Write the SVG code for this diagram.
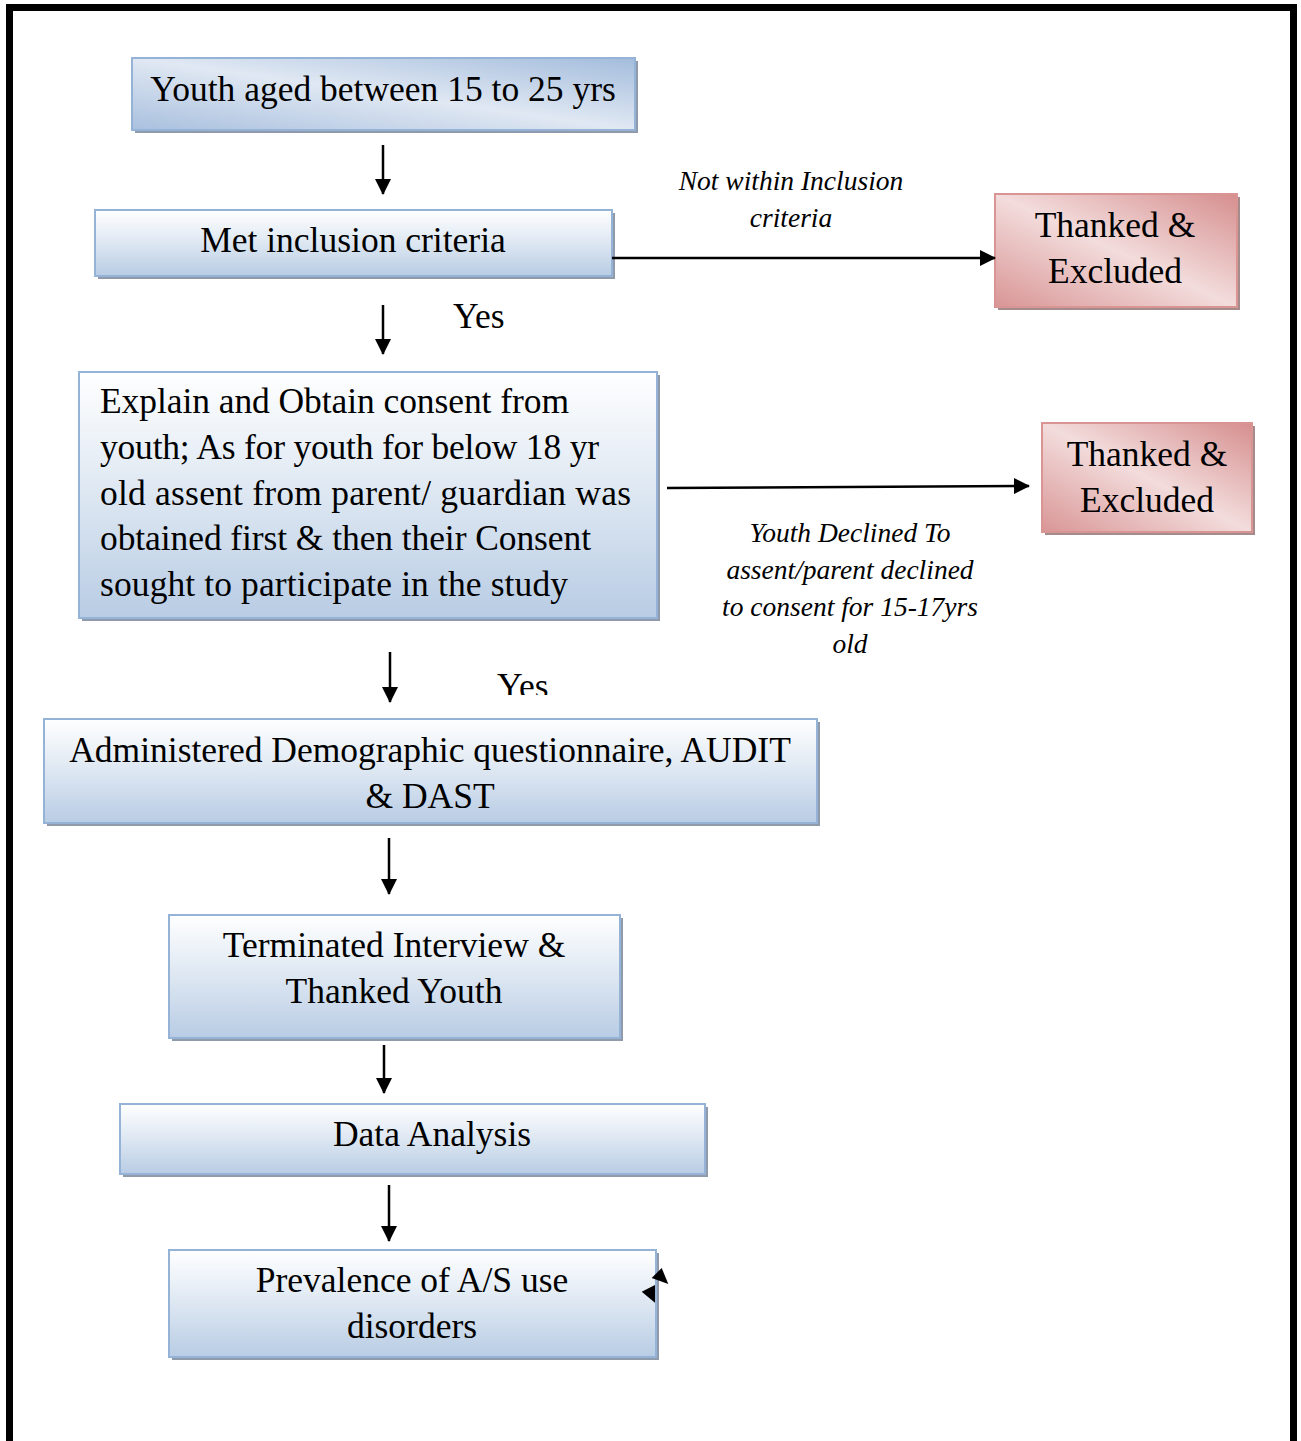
<svg xmlns="http://www.w3.org/2000/svg" width="1301" height="1441" viewBox="0 0 1301 1441">
<defs>
<linearGradient id="gBlue" x1="0" y1="0" x2="0" y2="1">
<stop offset="0" stop-color="#ffffff"/>
<stop offset="0.5" stop-color="#dde7f2"/>
<stop offset="1" stop-color="#b8cce4"/>
</linearGradient>
<linearGradient id="gBlueD" x1="1" y1="0" x2="0" y2="1">
<stop offset="0" stop-color="#a3bcdc"/>
<stop offset="0.5" stop-color="#e0e8f3"/>
<stop offset="1" stop-color="#a9c0de"/>
</linearGradient>
<linearGradient id="gRed" x1="1" y1="0" x2="0" y2="1">
<stop offset="0" stop-color="#d68e8e"/>
<stop offset="0.5" stop-color="#f3dcdc"/>
<stop offset="1" stop-color="#d99595"/>
</linearGradient>
<marker id="ah" markerWidth="16" markerHeight="16" refX="15" refY="8" orient="auto" markerUnits="userSpaceOnUse">
<path d="M0,0 L16,8 L0,16 Z" fill="#000"/>
</marker>
<clipPath id="yesClip"><rect x="480" y="660" width="100" height="35"/></clipPath>
</defs>
<style>
.box{fill:url(#gBlue);stroke:#95b3d7;stroke-width:2}
.boxd{fill:url(#gBlueD);stroke:#95b3d7;stroke-width:2}
.rbox{fill:url(#gRed);stroke:#d99594;stroke-width:2}
.sh{fill:#8f9bab}
.rsh{fill:#a48c8d}
.t{font-family:"Liberation Serif","Times New Roman",serif;font-size:35.5px;fill:#000}
.c{text-anchor:middle}
.it{font-family:"Liberation Serif","Times New Roman",serif;font-size:27.5px;font-style:italic;fill:#000;text-anchor:middle}
.ln{stroke:#000;stroke-width:2.5;fill:none;marker-end:url(#ah)}
</style>
<rect x="0" y="0" width="1301" height="1441" fill="#fff"/>
<rect x="9.5" y="7.5" width="1284" height="1450" fill="none" stroke="#000" stroke-width="7"/>

<g id="n1">
<rect class="sh" x="135" y="61" width="503" height="72"/>
<rect class="boxd" x="132" y="58" width="503" height="72"/>
<text class="t c" x="383" y="101">Youth aged between 15 to 25 yrs</text>
</g>

<g id="n2">
<rect class="sh" x="98" y="213" width="517" height="66"/>
<rect class="box" x="95" y="210" width="517" height="66"/>
<text class="t c" x="353" y="252">Met inclusion criteria</text>
</g>

<g id="n3">
<rect class="rsh" x="998" y="197" width="242" height="113"/>
<rect class="rbox" x="995" y="194" width="242" height="113"/>
<text class="t c" x="1115" y="237">Thanked &amp;</text>
<text class="t c" x="1115" y="283">Excluded</text>
</g>

<g id="n4">
<rect class="sh" x="82" y="375" width="578" height="246"/>
<rect class="box" x="79" y="372" width="578" height="246"/>
<text class="t" x="100" y="413" textLength="469" lengthAdjust="spacing">Explain and Obtain consent from</text>
<text class="t" x="100" y="459" textLength="499" lengthAdjust="spacing">youth; As for youth for below 18 yr</text>
<text class="t" x="100" y="505" textLength="531" lengthAdjust="spacing">old assent from parent/ guardian was</text>
<text class="t" x="100" y="550" textLength="491" lengthAdjust="spacing">obtained first &amp; then their Consent</text>
<text class="t" x="100" y="596" textLength="468" lengthAdjust="spacing">sought to participate in the study</text>
</g>

<g id="n5">
<rect class="rsh" x="1045" y="426" width="210" height="109"/>
<rect class="rbox" x="1042" y="423" width="210" height="109"/>
<text class="t c" x="1147" y="466">Thanked &amp;</text>
<text class="t c" x="1147" y="512">Excluded</text>
</g>

<g id="n6">
<rect class="sh" x="47" y="722" width="773" height="104"/>
<rect class="box" x="44" y="719" width="773" height="104"/>
<text class="t c" x="430" y="762">Administered Demographic questionnaire, AUDIT</text>
<text class="t c" x="430" y="808">&amp; DAST</text>
</g>

<g id="n7">
<rect class="sh" x="172" y="918" width="451" height="123"/>
<rect class="box" x="169" y="915" width="451" height="123"/>
<text class="t c" x="394" y="957">Terminated Interview &amp;</text>
<text class="t c" x="394" y="1003">Thanked Youth</text>
</g>

<g id="n8">
<rect class="sh" x="123" y="1107" width="585" height="70"/>
<rect class="box" x="120" y="1104" width="585" height="70"/>
<text class="t c" x="432" y="1146">Data Analysis</text>
</g>

<g id="n9">
<rect class="sh" x="172" y="1253" width="487" height="107"/>
<rect class="box" x="169" y="1250" width="487" height="107"/>
<text class="t c" x="412" y="1292">Prevalence of A/S use</text>
<text class="t c" x="412" y="1338">disorders</text>
</g>

<g id="connectors">
<line class="ln" x1="383" y1="145" x2="383" y2="194"/>
<line class="ln" x1="612" y1="258" x2="995" y2="258"/>
<line class="ln" x1="383" y1="305" x2="383" y2="354"/>
<line class="ln" x1="667" y1="488" x2="1029" y2="486"/>
<line class="ln" x1="390" y1="652" x2="390" y2="702"/>
<line class="ln" x1="389" y1="838" x2="389" y2="894"/>
<line class="ln" x1="384" y1="1045" x2="384" y2="1093"/>
<line class="ln" x1="389" y1="1185" x2="389" y2="1241"/>
<path d="M651.7,1278 L661.7,1268 L668.3,1284 Z" fill="#000"/>
<path d="M641.7,1291.7 L655,1285 L655,1302.7 Z" fill="#000"/>
<text class="it" x="791" y="190">Not within Inclusion</text>
<text class="it" x="791" y="227">criteria</text>
<text class="t" x="453" y="328">Yes</text>
<text class="it" x="850" y="542">Youth Declined To</text>
<text class="it" x="850" y="579">assent/parent declined</text>
<text class="it" x="850" y="616">to consent for 15-17yrs</text>
<text class="it" x="850" y="653">old</text>
<text class="t" x="497" y="698" clip-path="url(#yesClip)">Yes</text>
</g>
</svg>
